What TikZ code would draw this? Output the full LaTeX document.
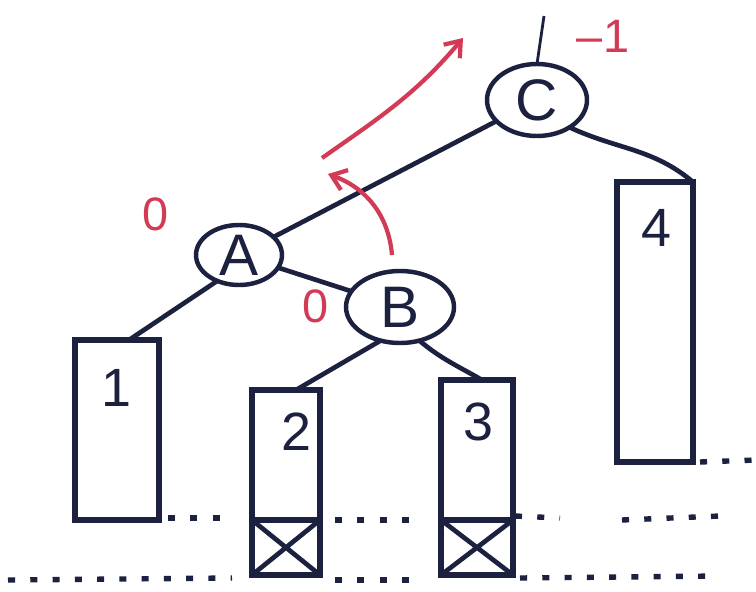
\documentclass[tikz,border=0pt]{standalone}
\usepackage{fontspec}
\setmainfont{Liberation Sans}
\usetikzlibrary{arrows.meta,shapes.geometric}
\definecolor{ink}{HTML}{1C2140}
\definecolor{redink}{HTML}{D23A55}
\begin{document}
\begin{tikzpicture}[x=0.03cm,y=-0.03cm,
  every node/.style={inner sep=0pt,outer sep=0pt},
  treenode/.style={draw=ink,line width=3.8pt,ellipse,font=\fontsize{50}{54}\selectfont,text=ink},
  subtree/.style={draw=ink,line width=4.8pt,rectangle},
  crossbox/.style={draw=ink,line width=4.8pt,rectangle},
  boxlabel/.style={font=\fontsize{46}{50}\selectfont,text=ink},
  balance/.style={font=\fontsize{40}{44}\selectfont,text=redink},
  edge/.style={draw=ink,line width=4pt},
  level/.style={draw=ink,line width=4.6pt,dash pattern=on 6pt off 13pt},
  rot/.style={draw=redink,line width=3.6pt,-{Straight Barb[length=12pt,width=18pt,line width=3.6pt]}}
]
\useasboundingbox (0,0) rectangle (756,592);
% tree nodes
\node[treenode,minimum width=3cm,minimum height=2.16cm] (C) at (537,100) {C};
\node[treenode,minimum width=2.58cm,minimum height=1.8cm] (A) at (239,255) {A};
\node[treenode,minimum width=3.24cm,minimum height=2.16cm] (B) at (400,307) {B};
% subtrees
\node[subtree,minimum width=2.52cm,minimum height=5.4cm] (b1) at (117,430) {};
\node[subtree,minimum width=2.04cm,minimum height=3.9cm] (b2) at (286,455) {};
\node[crossbox,minimum width=2.04cm,minimum height=1.65cm] (x2) at (286,547.5) {};
\node[subtree,minimum width=2.16cm,minimum height=4.2cm] (b3) at (477,450) {};
\node[crossbox,minimum width=2.16cm,minimum height=1.65cm] (x3) at (477,547.5) {};
\node[subtree,minimum width=2.28cm,minimum height=8.4cm] (b4) at (655,322) {};
\draw[ink,line width=4pt] (x2.north west) -- (x2.south east) (x2.north east) -- (x2.south west);
\draw[ink,line width=4pt] (x3.north west) -- (x3.south east) (x3.north east) -- (x3.south west);
% labels
\node[boxlabel] (l1) at (116,388) {1};
\node[boxlabel] (l2) at (296,432) {2};
\node[boxlabel] (l3) at (478,422) {3};
\node[boxlabel] (l4) at (656,228) {4};
% edges
\coordinate (top) at (544,16);
\draw[edge,line width=2.4pt] (top) -- (C.north);
\draw[edge] (C) -- (A);
\draw[edge] (C.-40) to[out=-25,in=140] (b4.north east);
\draw[edge] (A) -- (B);
\draw[edge] (A.-130) -- ([xshift=0.36cm]b1.north);
\draw[edge] (B.-120) -- ([xshift=0.3cm]b2.north);
\draw[edge] (B.-60) to[out=-40,in=150] ([xshift=0.15cm]b3.north);
% balance factors
\node[balance] (bc) at (603,36) {–1};
\node[balance] (ba) at (156,214) {0};
\node[balance] (bb) at (316,306) {0};
% rotation arrows
\coordinate (r1s) at (322,158);
\coordinate (r1e) at (463,38);
\draw[rot] (r1s) to[out=35,in=-130] (r1e);
\coordinate (r2s) at (392,255);
\coordinate (r2e) at (328,174);
\draw[rot] (r2s) to[out=95,in=-20] (r2e);
% levels
\coordinate (d1a) at (168,518); \coordinate (d1b) at (232,518);
\coordinate (d2a) at (335,520); \coordinate (d2b) at (410,520);
\coordinate (d3a) at (515,516); \coordinate (d3b) at (560,518);
\coordinate (d4a) at (622,520); \coordinate (d4b) at (720,516);
\coordinate (d5a) at (8,580); \coordinate (d5b) at (232,578);
\coordinate (d6a) at (335,580); \coordinate (d6b) at (410,580);
\coordinate (d7a) at (520,578); \coordinate (d7b) at (720,576);
\coordinate (d8a) at (700,462); \coordinate (d8b) at (756,460);
\foreach \s/\e in {d1a/d1b,d2a/d2b,d3a/d3b,d4a/d4b,d5a/d5b,d6a/d6b,d7a/d7b,d8a/d8b}
  \draw[level] (\s) -- (\e);
\end{tikzpicture}
\end{document}
